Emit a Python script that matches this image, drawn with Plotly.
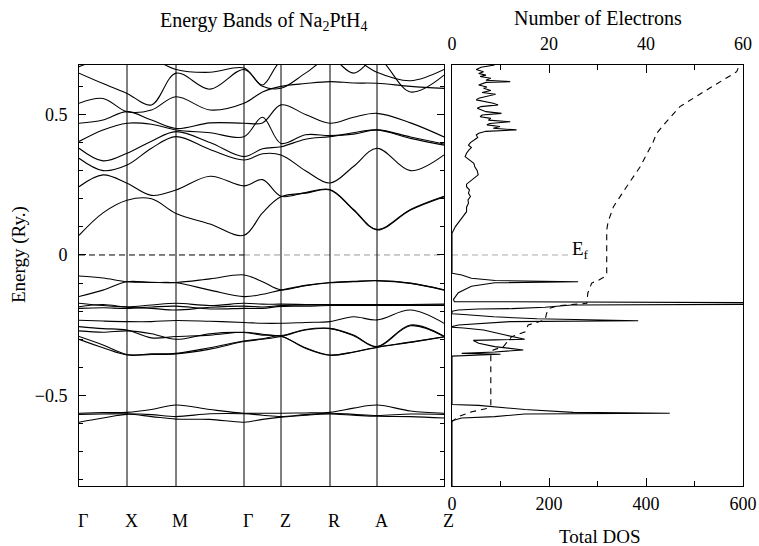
import plotly.graph_objects as go

# ---------------- data ----------------
K_LABELS = ["Γ", "X", "M", "Γ", "Z", "R", "A", "Z"]
K_POS = [0, 48, 97, 165, 202, 251, 298, 365]

# band energies (Ry) sampled at: G m X m M m G m Z m R m A m Z  (m = mid-segment)
C1 = [0.070, 0.150, 0.195, 0.200, 0.148, 0.110, 0.070, 0.150, 0.207, 0.220, 0.231, 0.160, 0.089, 0.160, 0.207]
C2 = [0.243, 0.285, 0.255, 0.212, 0.231, 0.280, 0.246, 0.268, 0.209, 0.222, 0.233, 0.162, 0.091, 0.162, 0.209]
C3 = [0.344, 0.300, 0.320, 0.380, 0.421, 0.375, 0.338, 0.360, 0.356, 0.300, 0.256, 0.315, 0.380, 0.300, 0.356]
C4 = [0.380, 0.335, 0.362, 0.405, 0.439, 0.400, 0.350, 0.378, 0.385, 0.412, 0.421, 0.435, 0.445, 0.415, 0.391]
C5 = [0.404, 0.445, 0.469, 0.465, 0.445, 0.435, 0.421, 0.490, 0.397, 0.428, 0.425, 0.430, 0.445, 0.420, 0.395]
C6 = [0.469, 0.480, 0.510, 0.480, 0.450, 0.470, 0.469, 0.470, 0.534, 0.500, 0.469, 0.490, 0.504, 0.470, 0.420]
C7 = [0.540, 0.557, 0.510, 0.516, 0.563, 0.516, 0.540, 0.580, 0.600, 0.610, 0.617, 0.612, 0.611, 0.600, 0.593]
C8 = [0.647, 0.610, 0.575, 0.534, 0.647, 0.590, 0.660, 0.600, 0.593, 0.647, 0.700, 0.647, 0.700, 0.580, 0.640]
C9 = [0.670, 0.700, 0.720, 0.700, 0.660, 0.650, 0.665, 0.605, 0.690, 0.700, 0.720, 0.700, 0.650, 0.620, 0.660]

V1 = [-0.075, -0.082, -0.095, -0.097, -0.098, -0.085, -0.071, -0.095, -0.124, -0.108, -0.098, -0.094, -0.091, -0.100, -0.124]
V2 = [-0.148, -0.125, -0.095, -0.098, -0.099, -0.125, -0.148, -0.140, -0.125, -0.109, -0.099, -0.095, -0.092, -0.101, -0.125]
V3 = [-0.172, -0.180, -0.184, -0.178, -0.172, -0.180, -0.172, -0.175, -0.175, -0.176, -0.176, -0.176, -0.176, -0.176, -0.175]
V4 = [-0.184, -0.176, -0.186, -0.190, -0.196, -0.186, -0.182, -0.185, -0.180, -0.178, -0.178, -0.178, -0.178, -0.178, -0.178]
V5 = [-0.190, -0.188, -0.190, -0.185, -0.182, -0.192, -0.190, -0.190, -0.183, -0.182, -0.180, -0.180, -0.180, -0.180, -0.180]

L1 = [-0.232, -0.235, -0.237, -0.237, -0.233, -0.236, -0.240, -0.243, -0.243, -0.240, -0.237, -0.220, -0.231, -0.196, -0.243]
L2 = [-0.255, -0.262, -0.267, -0.295, -0.290, -0.285, -0.275, -0.282, -0.287, -0.265, -0.261, -0.285, -0.326, -0.249, -0.289]
L3 = [-0.270, -0.275, -0.270, -0.280, -0.300, -0.280, -0.276, -0.285, -0.289, -0.330, -0.356, -0.345, -0.328, -0.310, -0.291]
L4 = [-0.290, -0.320, -0.354, -0.352, -0.350, -0.330, -0.306, -0.298, -0.289, -0.332, -0.357, -0.346, -0.329, -0.311, -0.292]
L5 = [-0.300, -0.330, -0.356, -0.354, -0.352, -0.335, -0.308, -0.300, -0.290, -0.267, -0.262, -0.287, -0.327, -0.252, -0.290]

B1 = [-0.563, -0.561, -0.560, -0.550, -0.534, -0.550, -0.563, -0.563, -0.563, -0.562, -0.560, -0.545, -0.534, -0.555, -0.563]
B2 = [-0.567, -0.566, -0.565, -0.568, -0.575, -0.565, -0.565, -0.570, -0.575, -0.568, -0.563, -0.567, -0.571, -0.566, -0.567]
B3 = [-0.595, -0.580, -0.567, -0.575, -0.584, -0.585, -0.595, -0.585, -0.577, -0.570, -0.566, -0.570, -0.574, -0.575, -0.580]

BANDS = [C1, C2, C3, C4, C5, C6, C7, C8, C9, V1, V2, V3, V4, V5, L1, L2, L3, L4, L5, B1, B2, B3]

# total DOS (states/Ry) vs energy
DOS_E = [0.676, 0.668, 0.660, 0.652, 0.646, 0.640, 0.635, 0.629, 0.622, 0.617, 0.614, 0.605,
         0.598, 0.593, 0.585, 0.578, 0.572, 0.565, 0.558, 0.552, 0.545, 0.540, 0.534, 0.528,
         0.522, 0.515, 0.510, 0.504, 0.498, 0.492, 0.486, 0.480, 0.474, 0.468, 0.463, 0.457,
         0.451, 0.445, 0.440, 0.433, 0.427, 0.418, 0.409, 0.400, 0.391, 0.382, 0.374, 0.362,
         0.350, 0.338, 0.326, 0.314, 0.300, 0.285, 0.273, 0.261, 0.252, 0.243, 0.232, 0.220,
         0.208, 0.196, 0.184, 0.170, 0.154, 0.140, 0.125, 0.101, 0.077, -0.065,
         -0.071, -0.083, -0.091, -0.095, -0.099, -0.111, -0.134, -0.158, -0.166,
         -0.170, -0.175, -0.178, -0.186, -0.191, -0.192, -0.196, -0.200,
         -0.209, -0.212, -0.220, -0.227, -0.234, -0.237, -0.249, -0.255,
         -0.257, -0.260, -0.267, -0.285, -0.300, -0.302, -0.304, -0.314, -0.326, -0.338, -0.345,
         -0.350, -0.353, -0.356, -0.360, -0.532, -0.535, -0.550, -0.560, -0.563, -0.566, -0.575,
         -0.580, -0.590, -0.822]
DOS_V = [88, 60, 50, 65, 55, 70, 58, 80, 70, 120, 70, 55,
         72, 65, 80, 62, 90, 70, 55, 50, 72, 85, 95, 60,
         52, 65, 70, 102, 62, 58, 80, 75, 120, 78, 72, 99,
         85, 133, 70, 55, 50, 53, 45, 38, 34, 40, 35, 30,
         27, 35, 45, 47, 52, 54, 45, 37, 30, 30, 36, 34,
         38, 33, 34, 30, 30, 24, 17, 7, 0, 0,
         20, 40, 89, 260, 88, 40, 13, 3, 5,
         700, 700, 247, 192, 123, 54, 13, 0,
         0, 24, 86, 175, 384, 120, 13, 0,
         0, 24, 65, 110, 150, 88, 44, 55, 88, 147, 88,
         20, 100, 60, 0, 0, 55, 150, 250, 449, 150, 88,
         20, 0, 0]

# integrated number of electrons vs energy
ELEC_E = [0.665, 0.652, 0.587, 0.528, 0.470, 0.433, 0.403, 0.314, 0.243, 0.172, 0.119, 0.089, 0.0,
          -0.065, -0.077, -0.089, -0.100, -0.136, -0.172, -0.180, -0.190, -0.208, -0.231, -0.249,
          -0.273, -0.291, -0.326, -0.338, -0.356, -0.534, -0.546, -0.558, -0.575, -0.593]
ELEC_N = [59.0, 58.7, 52.5, 47.0, 44.0, 42.2, 41.5, 38.8, 36.0, 33.3, 32.2, 31.9, 31.9,
          31.9, 31.5, 30.3, 28.8, 28.0, 27.8, 22.0, 20.0, 19.5, 19.2, 15.7,
          15.1, 12.3, 10.6, 8.5, 8.0, 8.0, 7.2, 4.1, 1.3, 0.0]

E_FERMI = 0.0
E_RANGE = [-0.822, 0.676]

# ---------------- figure ----------------
W, H = 759, 546
FONT = "Liberation Serif"


def px(x):
    return x / W


def py(y):
    return 1 - y / H


kgrid = []
for i in range(len(K_POS) - 1):
    kgrid += [K_POS[i], (K_POS[i] + K_POS[i + 1]) / 2]
kgrid.append(K_POS[-1])

fig = go.Figure()
for b in BANDS:
    fig.add_trace(go.Scatter(x=kgrid, y=b, mode="lines",
                             line=dict(color="black", width=1.1, shape="spline", smoothing=1.0),
                             xaxis="x", yaxis="y", showlegend=False, hoverinfo="skip"))

# Fermi level
fig.add_trace(go.Scatter(x=[K_POS[0], K_POS[3]], y=[E_FERMI, E_FERMI], mode="lines",
                         line=dict(color="black", width=1, dash="6px,4px"),
                         xaxis="x", yaxis="y", showlegend=False))
fig.add_trace(go.Scatter(x=[K_POS[3], K_POS[-1]], y=[E_FERMI, E_FERMI], mode="lines",
                         line=dict(color="#999999", width=1, dash="6px,4px"),
                         xaxis="x", yaxis="y", showlegend=False))
fig.add_trace(go.Scatter(x=[0, 243], y=[E_FERMI, E_FERMI], mode="lines",
                         line=dict(color="#aaaaaa", width=1, dash="6px,4px"),
                         xaxis="x2", yaxis="y2", showlegend=False))

# DOS
fig.add_trace(go.Scatter(x=DOS_V, y=DOS_E, mode="lines",
                         line=dict(color="black", width=1.1),
                         xaxis="x2", yaxis="y2", showlegend=False))
# electrons
fig.add_trace(go.Scatter(x=ELEC_N, y=ELEC_E, mode="lines",
                         line=dict(color="black", width=1.1, dash="6px,5px"),
                         xaxis="x3", yaxis="y2", showlegend=False))

# k-point vertical lines
for kp in K_POS[1:-1]:
    fig.add_shape(type="line", xref="x", yref="y domain", x0=kp, x1=kp, y0=0, y1=1,
                  line=dict(color="black", width=1))

x1d = [px(79), px(444)]
x2d = [px(452), px(743)]
yd = [py(486), py(65)]
tickfont = dict(family=FONT, size=18, color="black")

fig.update_layout(
    width=W, height=H, margin=dict(l=0, r=0, t=0, b=0, autoexpand=False),
    paper_bgcolor="white", plot_bgcolor="white", showlegend=False,
    xaxis=dict(domain=x1d, range=[K_POS[0], K_POS[-1]], showgrid=False, zeroline=False,
               showline=True, linecolor="black", linewidth=1, mirror=True,
               showticklabels=False, ticks="", automargin=False),
    yaxis=dict(domain=yd, range=E_RANGE, showgrid=False, zeroline=False,
               showline=True, linecolor="black", linewidth=1, mirror="ticks",
               tickvals=[-0.5, 0, 0.5], ticktext=["−0.5", "0", "0.5"],
               ticks="inside", ticklen=7, tickcolor="black", tickfont=tickfont,
               ticklabelstandoff=7, automargin=False,
               minor=dict(dtick=0.1, tick0=0, ticks="inside", ticklen=4, tickcolor="black")),
    xaxis2=dict(domain=x2d, anchor="y2", range=[0, 600], showgrid=False, zeroline=False,
                showline=True, linecolor="black", linewidth=1, mirror="ticks",
                tickvals=[0, 200, 400, 600], ticks="inside", ticklen=8, tickcolor="black",
                tickfont=tickfont, ticklabelstandoff=1, automargin=False,
                minor=dict(dtick=100, tick0=0, ticks="inside", ticklen=5, tickcolor="black")),
    xaxis3=dict(overlaying="x2", anchor="y2", side="top", range=[0, 60], showgrid=False,
                zeroline=False, showline=False, tickvals=[0, 20, 40, 60], ticks="",
                tickfont=tickfont, ticklabelstandoff=10, automargin=False),
    yaxis2=dict(domain=yd, anchor="x2", range=E_RANGE, showgrid=False, zeroline=False,
                showline=True, linecolor="black", linewidth=1, mirror=True,
                showticklabels=False, ticks="", automargin=False),
)

ann = []
for lab, kp in zip(K_LABELS, K_POS):
    ann.append(dict(x=kp, y=py(521), xref="x", yref="paper", text=lab, showarrow=False,
                    xanchor="center", yanchor="middle", xshift=4,
                    font=dict(family=FONT, size=18, color="black")))
common = dict(xref="paper", yref="paper", showarrow=False, xanchor="center", yanchor="middle")
ann += [
    dict(x=px(264), y=py(22), text="Energy Bands of Na<sub>2</sub>PtH<sub>4</sub>",
         font=dict(family=FONT, size=20, color="black"), **common),
    dict(x=px(598), y=py(18), text="Number of Electrons",
         font=dict(family=FONT, size=20, color="black"), **common),
    dict(x=px(600), y=py(536), text="Total DOS",
         font=dict(family=FONT, size=19, color="black"), **common),
    dict(x=px(19), y=py(255), text="Energy (Ry.)", textangle=-90,
         font=dict(family=FONT, size=19, color="black"), **common),
    dict(x=265, y=0.018, xref="x2", yref="y2", text="E<sub>f</sub>", showarrow=False,
         xanchor="center", yanchor="middle", font=dict(family=FONT, size=19, color="black")),
]
fig.update_layout(annotations=ann)

fig.write_html("out.html", config={"displayModeBar": False},
               post_script="document.body.style.margin='0px';document.body.style.overflow='hidden';")
